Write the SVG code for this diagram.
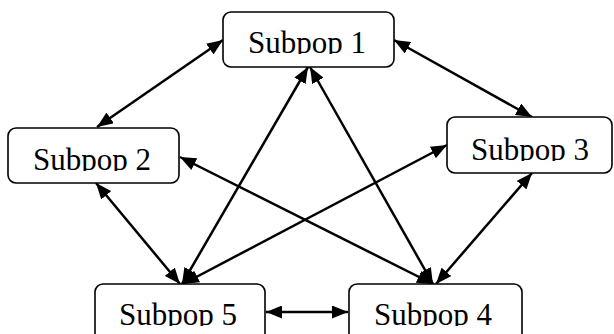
<svg xmlns="http://www.w3.org/2000/svg" width="614" height="334" viewBox="0 0 614 334">
<style>
.box{fill:#fff;stroke:#000;stroke-width:1.6}
.lbl{font-family:"Liberation Serif","Times New Roman",serif;font-size:31px;fill:#000}
.edge{stroke:#000;stroke-width:2.5;fill:none;marker-start:url(#ah);marker-end:url(#ah)}
</style>
<defs>
<marker id="ah" markerUnits="userSpaceOnUse" viewBox="0 0 16 13" markerWidth="16" markerHeight="13" refX="16" refY="6.5" orient="auto-start-reverse">
<path d="M0,0 L16,6.5 L0,13 z" fill="#000"/>
</marker>
<clipPath id="c1"><rect x="223" y="12" width="171" height="42"/></clipPath>
<clipPath id="c2"><rect x="8" y="128" width="171" height="43"/></clipPath>
<clipPath id="c3"><rect x="447" y="117" width="166" height="44"/></clipPath>
<clipPath id="c5"><rect x="95" y="284" width="170" height="42"/></clipPath>
<clipPath id="c4"><rect x="349" y="284" width="173" height="42"/></clipPath>
</defs>
<g id="connectors">
<line class="edge" x1="223" y1="40" x2="97" y2="127"/>
<line class="edge" x1="394" y1="40" x2="532" y2="117"/>
<line class="edge" x1="308" y1="67" x2="182" y2="284"/>
<line class="edge" x1="310" y1="67" x2="433" y2="284"/>
<line class="edge" x1="180" y1="157" x2="433" y2="284"/>
<line class="edge" x1="96" y1="183" x2="180" y2="284"/>
<line class="edge" x1="447" y1="145" x2="183" y2="284"/>
<line class="edge" x1="532" y1="173" x2="436" y2="284"/>
<line class="edge" x1="266" y1="312" x2="348" y2="312"/>
</g>
<g id="subpop1">
<rect class="box" x="223" y="12" width="171" height="55" rx="8"/>
<text class="lbl" x="248" y="53" clip-path="url(#c1)">Subpop 1</text>
</g>
<g id="subpop2">
<rect class="box" x="8" y="128" width="171" height="55" rx="8"/>
<text class="lbl" x="33" y="170" clip-path="url(#c2)">Subpop 2</text>
</g>
<g id="subpop3">
<rect class="box" x="447" y="117" width="165" height="56" rx="8"/>
<text class="lbl" x="471" y="160" clip-path="url(#c3)">Subpop 3</text>
</g>
<g id="subpop5">
<rect class="box" x="95" y="284" width="170" height="60" rx="8"/>
<text class="lbl" x="119" y="325" clip-path="url(#c5)">Subpop 5</text>
</g>
<g id="subpop4">
<rect class="box" x="349" y="284" width="173" height="60" rx="8"/>
<text class="lbl" x="374" y="325" clip-path="url(#c4)">Subpop 4</text>
</g>
</svg>
